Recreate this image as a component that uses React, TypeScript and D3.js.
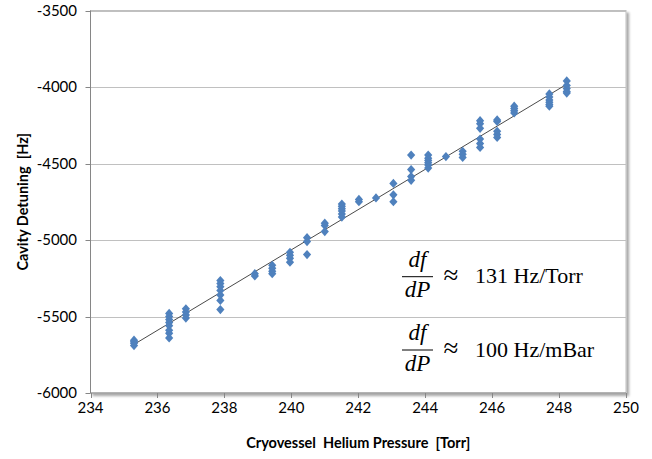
import React from "react";
import * as d3 from "d3";

const pressure: number[] = [
  235.3, 235.3, 235.3, 235.3,
  236.35, 236.35, 236.35, 236.35, 236.35, 236.35, 236.35, 236.35,
  236.85, 236.85, 236.85, 236.85,
  237.88, 237.88, 237.88, 237.88, 237.88, 237.88, 237.88,
  238.91, 238.91,
  239.43, 239.43, 239.43, 239.43,
  239.96, 239.96, 239.96, 239.96,
  240.47, 240.47, 240.47,
  241.0, 241.0, 241.0,
  241.51, 241.51, 241.51, 241.51, 241.51, 241.51,
  242.02, 242.02,
  242.53,
  243.05, 243.05, 243.05,
  243.58, 243.58, 243.58, 243.58,
  244.09, 244.09, 244.09, 244.09, 244.09, 244.09,
  244.62,
  245.12, 245.12, 245.12,
  245.64, 245.64, 245.64, 245.64, 245.64, 245.64,
  246.15, 246.15, 246.15, 246.15, 246.15,
  246.66, 246.66, 246.66, 246.66,
  247.71, 247.71, 247.71, 247.71, 247.71, 247.71,
  248.23, 248.23, 248.23, 248.23, 248.23,
];

const detuning: number[] = [
  -5655, -5665, -5675, -5690,
  -5480, -5500, -5520, -5540, -5560, -5590, -5610, -5640,
  -5450, -5470, -5490, -5510,
  -5265, -5285, -5305, -5330, -5360, -5395, -5455,
  -5220, -5235,
  -5165, -5185, -5205, -5220,
  -5080, -5100, -5120, -5145,
  -4985, -5010, -5095,
  -4890, -4905, -4945,
  -4765, -4780, -4795, -4810, -4830, -4850,
  -4735, -4750,
  -4725,
  -4630, -4705, -4750,
  -4445, -4540, -4585, -4610,
  -4445, -4465, -4480, -4495, -4510, -4530,
  -4455,
  -4420, -4440, -4460,
  -4220, -4240, -4270, -4340, -4370, -4395,
  -4215, -4225, -4290, -4310, -4330,
  -4125, -4140, -4155, -4170,
  -4045, -4065, -4085, -4100, -4115, -4125,
  -3960, -3990, -4010, -4030, -4040,
];

const xTicks: number[] = [234, 236, 238, 240, 242, 244, 246, 248, 250];
const yTicks: number[] = [-6000, -5500, -5000, -4500, -4000, -3500];

const xTitle = "Cryovessel  Helium Pressure  [Torr]";
const yTitle = "Cavity Detuning  [Hz]";
const rates: string[] = ["131 Hz/Torr", "100 Hz/mBar"];

const W = 652;
const H = 459;
const PL = 90.5;
const PR = 626;
const PT = 10.5;
const PB = 393;

export default function App() {
  const x = d3.scaleLinear().domain([234, 250]).range([PL, PR]);
  const y = d3.scaleLinear().domain([-6000, -3500]).range([PB, PT]);

  const pts = pressure.map((p, i) => ({ p, d: detuning[i] }));
  const mx = d3.mean(pressure) as number;
  const my = d3.mean(detuning) as number;
  const sxy = d3.sum(pts, (o) => (o.p - mx) * (o.d - my));
  const sxx = d3.sum(pts, (o) => (o.p - mx) * (o.p - mx));
  const slope = sxy / sxx;
  const icpt = my - slope * mx;
  const [xmin, xmax] = d3.extent(pressure) as [number, number];
  const line = d3
    .line<number>()
    .x((v) => x(v))
    .y((v) => y(icpt + slope * v));

  const diamond = "M0,-4.6L4.1,0L0,4.6L-4.1,0Z";
  const font = "Lato, 'Open Sans', sans-serif";
  const serif = "'Liberation Serif', 'DejaVu Serif', serif";

  const fracY = [276.7, 350];

  return (
    <svg
      width={W}
      height={H}
      style={{ position: "absolute", left: 0, top: 0, background: "#fff" }}
    >
      <defs>
        <filter id="sh" x="-5%" y="-5%" width="110%" height="110%">
          <feDropShadow dx="2.5" dy="2.5" stdDeviation="1.3" floodColor="#000" floodOpacity="0.35" />
        </filter>
      </defs>
      <rect
        x={PL}
        y={PT}
        width={PR - PL}
        height={PB - PT}
        fill="#fff"
        stroke="#bfbfbf"
        strokeWidth={1}
        filter="url(#sh)"
      />
      {yTicks.slice(1).map((t) => (
        <line
          key={"g" + t}
          x1={PL}
          x2={PR}
          y1={Math.round(y(t)) + 0.5}
          y2={Math.round(y(t)) + 0.5}
          stroke="#c0c0c0"
          strokeWidth={1}
        />
      ))}
      <line x1={PL} x2={PL} y1={PT} y2={PB} stroke="#868686" strokeWidth={1} />
      <line x1={PL} x2={PR} y1={PB} y2={PB} stroke="#868686" strokeWidth={1} />
      {yTicks.map((t) => (
        <g key={"y" + t}>
          <line
            x1={PL - 5}
            x2={PL}
            y1={Math.round(y(t)) + 0.5}
            y2={Math.round(y(t)) + 0.5}
            stroke="#868686"
          />
          <text
            x={77}
            y={y(t)}
            dy="0.35em"
            textAnchor="end"
            fontFamily={font}
            fontSize={15}
            fill="#000"
          >
            {t}
          </text>
        </g>
      ))}
      {xTicks.map((t) => (
        <g key={"x" + t}>
          <line
            x1={Math.round(x(t)) + 0.5}
            x2={Math.round(x(t)) + 0.5}
            y1={PB}
            y2={PB + 5}
            stroke="#868686"
          />
          <text
            x={x(t)}
            y={413}
            textAnchor="middle"
            fontFamily={font}
            fontSize={15}
            fill="#000"
          >
            {t}
          </text>
        </g>
      ))}
      <path
        d={line([xmin, xmax]) as string}
        stroke="#4a4a4a"
        strokeWidth={1}
        fill="none"
      />
      {pts.map((o, i) => (
        <path
          key={"p" + i}
          d={diamond}
          transform={`translate(${x(o.p)},${y(o.d)})`}
          fill="#4f81bd"
        />
      ))}
      <text
        x={(PL + PR) / 2}
        y={448}
        textAnchor="middle"
        fontFamily={font}
        fontWeight="bold"
        fontSize={14.5}
        fill="#000"
        style={{ whiteSpace: "pre" }}
      >
        {xTitle}
      </text>
      <text
        transform={`translate(28,${(PT + PB) / 2}) rotate(-90)`}
        textAnchor="middle"
        fontFamily={font}
        fontWeight="bold"
        fontSize={14.5}
        fill="#000"
        style={{ whiteSpace: "pre" }}
      >
        {yTitle}
      </text>
      {rates.map((r, i) => {
        const fy = fracY[i];
        return (
          <g key={"f" + i} fontFamily={serif} fill="#000">
            <text x={417.5} y={fy - 10} textAnchor="middle" fontSize={23} fontStyle="italic">
              df
            </text>
            <line x1={402} x2={433} y1={fy} y2={fy} stroke="#000" strokeWidth={1} />
            <text x={417.5} y={fy + 20.5} textAnchor="middle" fontSize={23} fontStyle="italic">
              dP
            </text>
            <text x={451} y={fy + 7} textAnchor="middle" fontSize={27}>
              ≈
            </text>
            <text x={475} y={fy + 6.5} fontSize={22}>
              {r}
            </text>
          </g>
        );
      })}
    </svg>
  );
}
